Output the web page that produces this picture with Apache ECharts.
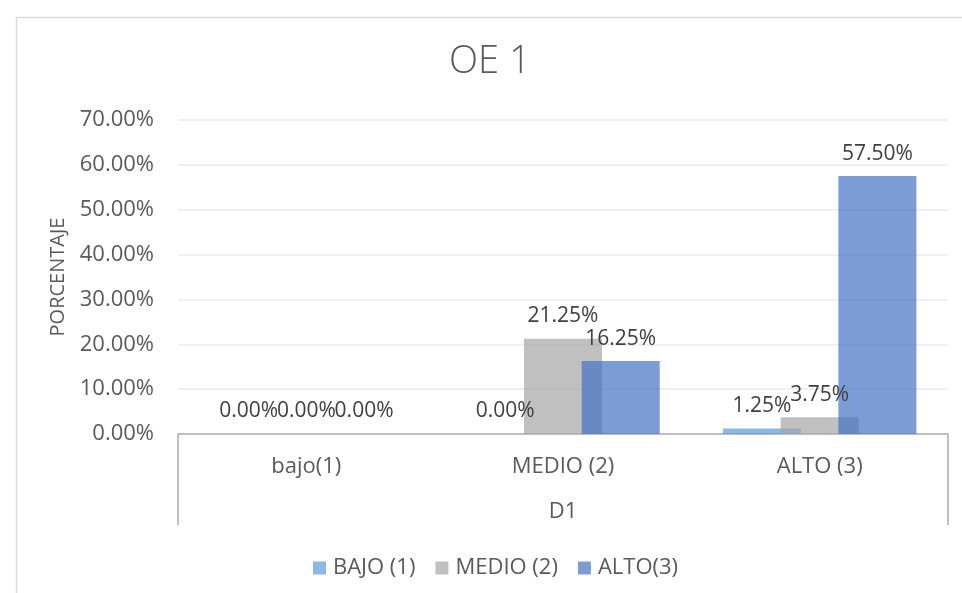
<!DOCTYPE html>
<html>
<head>
<meta charset="utf-8">
<title>OE 1</title>
<script src="https://cdn.jsdelivr.net/npm/echarts@6/dist/echarts.min.js"></script>
<style>
  html, body { margin: 0; padding: 0; background: #fff; }
  #chart { width: 962px; height: 593px; }
</style>
</head>
<body>
<div id="chart"></div>
<script>
const categories = ['bajo(1)', 'MEDIO (2)', 'ALTO (3)']
const groupLabel = ['D1']
const seriesNames = ['BAJO (1)', 'MEDIO (2)', 'ALTO(3)']
const bajoValues = [0, 0, 1.25]
const medioValues = [0, 21.25, 3.75]
const altoValues = [0, 16.25, 57.5]
const colors = ['rgba(91,155,213,0.7)', 'rgba(165,165,165,0.7)', 'rgba(68,114,196,0.7)']

const textColor = '#595959'
const font = 'Open Sans'
const pct = v => Number(v).toFixed(2) + '%'

const makeSeries = (name, data, color) => ({
  name,
  type: 'bar',
  xAxisIndex: 0,
  data,
  barWidth: 78,
  barGap: '-26%',
  itemStyle: { color },
  label: {
    show: true,
    position: 'top',
    distance: 12,
    color: '#404040',
    fontFamily: font,
    fontSize: 21,
    formatter: p => pct(p.value)
  },
  animation: false
})

// the original chart frame runs past the right edge, so title and legend sit a bit right of centre
const chart = echarts.init(document.getElementById('chart'))
chart.setOption({
  color: colors,
  title: {
    text: 'OE 1',
    left: 444,
    top: 38,
    textStyle: { color: textColor, fontFamily: font, fontSize: 38, fontWeight: 300 }
  },
  legend: {
    top: 552,
    left: 308,
    itemWidth: 13,
    itemHeight: 13,
    itemGap: 20,
    icon: 'rect',
    textStyle: { color: textColor, fontFamily: font, fontSize: 22, padding: [0, 0, 0, 2] },
    data: seriesNames
  },
  grid: { left: 178, right: 14, top: 120, bottom: 159 },
  graphic: [{
    type: 'rect',
    left: 14,
    top: 15,
    shape: { width: 1000, height: 1000 },
    style: { fill: 'none', stroke: '#D9D9D9', lineWidth: 1.5 },
    silent: true
  }],
  xAxis: [
    {
      type: 'category',
      data: categories,
      position: 'bottom',
      axisLine: { show: true, lineStyle: { color: '#BFBFBF', width: 2 } },
      axisTick: { show: false },
      axisLabel: { color: textColor, fontFamily: font, fontSize: 22, margin: 22 }
    },
    {
      type: 'category',
      data: groupLabel,
      position: 'bottom',
      axisLine: { show: false },
      axisTick: { show: true, length: 91, lineStyle: { color: '#BFBFBF', width: 2 } },
      axisLabel: { color: textColor, fontFamily: font, fontSize: 22, margin: 67 }
    }
  ],
  yAxis: {
    type: 'value',
    min: 0,
    max: 70,
    interval: 10,
    name: 'PORCENTAJE',
    nameLocation: 'middle',
    nameGap: 110,
    nameTextStyle: { color: textColor, fontFamily: font, fontSize: 20 },
    axisLine: { show: false },
    axisTick: { show: false },
    splitLine: { lineStyle: { color: '#EBEBEB', width: 1.5 } },
    axisLabel: { color: textColor, fontFamily: font, fontSize: 22, margin: 24, formatter: v => pct(v) }
  },
  series: [
    makeSeries(seriesNames[0], bajoValues, colors[0]),
    makeSeries(seriesNames[1], medioValues, colors[1]),
    makeSeries(seriesNames[2], altoValues, colors[2])
  ]
})
</script>
</body>
</html>
